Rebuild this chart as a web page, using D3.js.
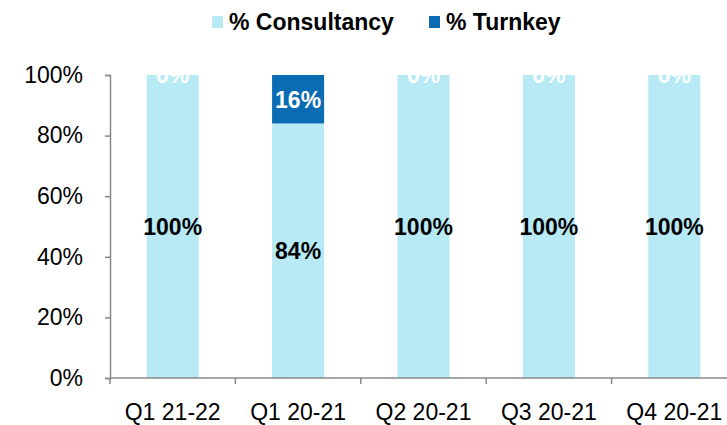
<!DOCTYPE html>
<html>
<head>
<meta charset="utf-8">
<script src="https://cdn.jsdelivr.net/npm/d3@7"></script>
<style>
  body { margin: 0; background: #fff; }
  text { font-family: "Liberation Sans", Arial, sans-serif; }
</style>
</head>
<body>
<div id="chart"></div>
<script>
const categories = ["Q1 21-22", "Q1 20-21", "Q2 20-21", "Q3 20-21", "Q4 20-21"];
const consultancy = [100, 84, 100, 100, 100];
const turnkey = [0, 16, 0, 0, 0];
const yTicks = [0, 20, 40, 60, 80, 100];
const seriesNames = ["% Consultancy", "% Turnkey"];
const colors = ["#b8eaf6", "#0a6cb3"];

const width = 727, height = 425;
const margin = {top: 75, right: -10, bottom: 47, left: 110};

const svg = d3.select("#chart").append("svg")
  .attr("width", width)
  .attr("height", height);

const rows = categories.map((c, i) => ({cat: c, c: consultancy[i], t: turnkey[i]}));
const stack = d3.stack().keys(["c", "t"])(rows);

const x = d3.scaleBand()
  .domain(categories)
  .range([margin.left, width - margin.right])
  .paddingInner(0.585)
  .paddingOuter(0.2925);

const y = d3.scaleLinear()
  .domain([0, 100])
  .range([height - margin.bottom, margin.top]);

svg.append("defs").append("clipPath").attr("id", "plot")
  .append("rect")
  .attr("x", margin.left).attr("y", margin.top)
  .attr("width", width - margin.left).attr("height", height - margin.bottom - margin.top);

const g = svg.append("g").attr("clip-path", "url(#plot)");

stack.forEach((s, k) => {
  g.selectAll(".bar" + k).data(s).enter().append("rect")
    .attr("x", d => x(d.data.cat))
    .attr("width", x.bandwidth())
    .attr("y", d => y(d[1]))
    .attr("height", d => y(d[0]) - y(d[1]))
    .attr("fill", colors[k]);
});

// value labels
stack.forEach((s, k) => {
  g.selectAll(".lab" + k).data(s).enter().append("text")
    .attr("x", d => x(d.data.cat) + x.bandwidth() / 2)
    .attr("y", d => y((d[0] + d[1]) / 2))
    .attr("dy", "0.36em")
    .attr("text-anchor", "middle")
    .attr("font-size", 23)
    .attr("font-weight", "bold")
    .attr("fill", k === 0 ? "#000" : "#fff")
    .text(d => (d[1] - d[0]) + "%");
});

// axes
const yAxis = d3.axisLeft(y).tickValues(yTicks).tickFormat(d => d + "%").tickSize(5).tickPadding(22);
const ya = svg.append("g")
  .attr("transform", `translate(${margin.left},0)`)
  .call(yAxis);
ya.selectAll("text").attr("font-size", 23).attr("fill", "#000").style("font-family", "Liberation Sans, Arial, sans-serif");

const xTickPos = d3.range(categories.length + 1).map(i => margin.left + i * x.step());
const xa = svg.append("g").attr("transform", `translate(0,${height - margin.bottom})`);
xa.append("line").attr("x1", margin.left).attr("x2", width).attr("stroke", "#888").attr("stroke-width", 1.5);
xa.selectAll(".tk").data(xTickPos).enter().append("line")
  .attr("x1", d => d).attr("x2", d => d).attr("y1", 0).attr("y2", 6)
  .attr("stroke", "#888").attr("stroke-width", 1.5);
xa.selectAll(".xl").data(categories).enter().append("text")
  .attr("x", d => x(d) + x.bandwidth() / 2)
  .attr("y", 42)
  .attr("text-anchor", "middle")
  .attr("font-size", 23)
  .attr("fill", "#000")
  .text(d => d);

ya.select(".domain").attr("stroke", "#888").attr("stroke-width", 1.5);
ya.selectAll(".tick line").attr("stroke", "#888").attr("stroke-width", 1.5);

// legend
const legend = svg.append("g");
const legX = [212, 429];
seriesNames.forEach((n, i) => {
  legend.append("rect").attr("x", legX[i]).attr("y", 16).attr("width", 11).attr("height", 12).attr("fill", colors[i]);
  legend.append("text").attr("x", legX[i] + 17).attr("y", 30)
    .attr("font-size", 23).attr("font-weight", "bold").attr("fill", "#000").text(n);
});
</script>
</body>
</html>
